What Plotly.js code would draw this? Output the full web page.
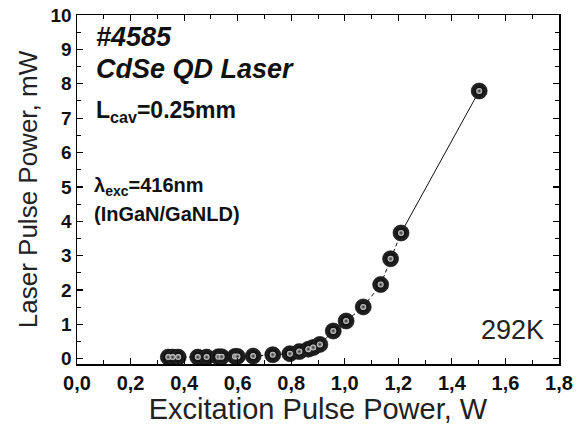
<!DOCTYPE html>
<html>
<head>
<meta charset="utf-8">
<script src="https://cdn.plot.ly/plotly-3.0.1.min.js"></script>
<style>
  html, body { margin: 0; padding: 0; background: #fff; }
  #chart { width: 587px; height: 431px; }
</style>
</head>
<body>
<div id="chart"></div>
<script>
// Excitation pulse power (W) and laser output pulse power (mW)
const excitationW = [0.341, 0.357, 0.378, 0.451, 0.484, 0.528, 0.540, 0.590, 0.599, 0.658,
                     0.731, 0.795, 0.830, 0.864, 0.882, 0.907, 0.957, 1.005, 1.069, 1.134,
                     1.171, 1.210, 1.502];
const laserMW     = [0.05, 0.05, 0.05, 0.05, 0.05, 0.06, 0.06, 0.07, 0.07, 0.08,
                     0.12, 0.15, 0.21, 0.28, 0.33, 0.42, 0.81, 1.10, 1.51, 2.16,
                     2.91, 3.66, 7.79];

const xTickVals = [0, 0.2, 0.4, 0.6, 0.8, 1.0, 1.2, 1.4, 1.6, 1.8];
const yTickVals = [0, 1, 2, 3, 4, 5, 6, 7, 8, 9, 10];

const n = excitationW.length;
const font = 'Liberation Sans, Arial, Helvetica, sans-serif';

const traces = [
  // dashed guide through the measured points
  {
    x: excitationW.slice(0, n - 1), y: laserMW.slice(0, n - 1),
    mode: 'lines', line: {color: '#111', width: 1, dash: '4px,3px'},
    hoverinfo: 'skip', showlegend: false
  },
  // solid segment to the last point
  {
    x: excitationW.slice(n - 2), y: laserMW.slice(n - 2),
    mode: 'lines', line: {color: '#111', width: 1},
    hoverinfo: 'skip', showlegend: false
  },
  // dark spheres
  {
    x: excitationW, y: laserMW, mode: 'markers',
    marker: {size: 16, color: '#262626', gradient: {type: 'radial', color: '#030303'},
             line: {color: '#000', width: 0.6}},
    showlegend: false
  },
  // sphere highlights
  {
    x: excitationW, y: laserMW, mode: 'markers',
    marker: {size: 6, color: '#dcdcdc', gradient: {type: 'radial', color: '#262626'},
             line: {width: 0}},
    hoverinfo: 'skip', showlegend: false
  }
];

const axisCommon = {
  showgrid: false, zeroline: false,
  showline: true, linecolor: '#000', linewidth: 1.5,
  mirror: 'ticks', ticks: 'inside', ticklen: 6, tickwidth: 1.2, tickcolor: '#000'
};

const layout = {
  width: 587, height: 431,
  margin: {l: 77, r: 28, t: 15, b: 67},
  paper_bgcolor: '#fff', plot_bgcolor: '#fff',
  separators: ',.',
  xaxis: Object.assign({}, axisCommon, {
    range: [0, 1.8], tickvals: xTickVals, tickformat: '.1f',
    tickfont: {family: font, size: 20, color: '#111', weight: 'bold'},
    minor: {dtick: 0.1, ticks: 'inside', ticklen: 4, tickwidth: 1, tickcolor: '#000'},
    title: {text: 'Excitation Pulse Power, W', font: {family: font, size: 29, color: '#222'}, standoff: 5}
  }),
  yaxis: Object.assign({}, axisCommon, {
    range: [-0.15, 10], tickvals: yTickVals,
    tickfont: {family: font, size: 19, color: '#111', weight: 'bold'},
    minor: {dtick: 0.5, ticks: 'inside', ticklen: 4, tickwidth: 1, tickcolor: '#000'},
    title: {text: 'Laser Pulse Power, mW', font: {family: font, size: 26, color: '#222'}, standoff: 5}
  }),
  annotations: [
    {text: '#4585', x: 0.065, y: 9.36, xref: 'x', yref: 'y', xanchor: 'left', showarrow: false,
     font: {family: font, size: 27, color: '#111', weight: 'bold', style: 'italic'}},
    {text: 'CdSe QD Laser', x: 0.065, y: 8.43, xref: 'x', yref: 'y', xanchor: 'left', showarrow: false,
     font: {family: font, size: 27, color: '#111', weight: 'bold', style: 'italic'}},
    {text: 'L<sub>cav</sub>=0.25mm', x: 0.065, y: 7.2, xref: 'x', yref: 'y', xanchor: 'left', showarrow: false,
     font: {family: font, size: 23, color: '#111', weight: 'bold'}},
    {text: 'λ<sub>exc</sub>=416nm', x: 0.055, y: 5.0, xref: 'x', yref: 'y', xanchor: 'left', showarrow: false,
     font: {family: font, size: 20, color: '#111', weight: 'bold'}},
    {text: '(InGaN/GaNLD)', x: 0.055, y: 4.2, xref: 'x', yref: 'y', xanchor: 'left', showarrow: false,
     font: {family: font, size: 20, color: '#111', weight: 'bold'}},
    {text: '292K', x: 1.75, y: 0.85, xref: 'x', yref: 'y', xanchor: 'right', showarrow: false,
     font: {family: font, size: 27, color: '#222'}}
  ]
};

Plotly.newPlot('chart', traces, layout, {displayModeBar: false, staticPlot: true});
</script>
</body>
</html>
